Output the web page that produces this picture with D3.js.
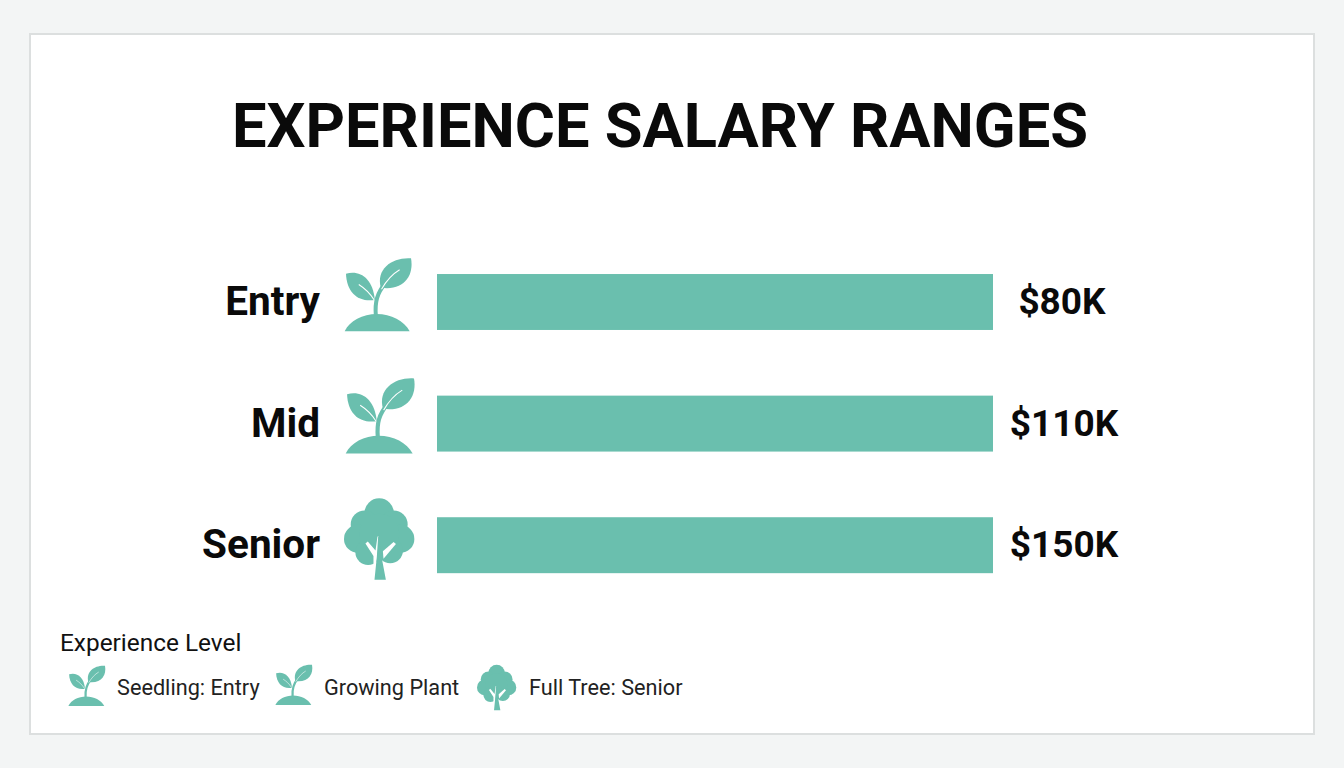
<!DOCTYPE html>
<html><head><meta charset="utf-8">
<script src="https://cdn.jsdelivr.net/npm/d3@7"></script>
<style>html,body{margin:0;padding:0;background:#f3f5f5;overflow:hidden}svg{display:block}text{font-family:Roboto,sans-serif}</style>
</head><body><svg id="c" width="1344" height="768"></svg>
<script>
const categories = ["Entry", "Mid", "Senior"];
const salaryLabels = ["$80K", "$110K", "$150K"];
const barShare = [100, 100, 100];
const iconKinds = ["seedling", "seedling", "tree"];
const legendLabels = ["Seedling: Entry", "Growing Plant", "Full Tree: Senior"];
const legendKinds = ["seedling", "seedling", "tree"];
const titleText = "EXPERIENCE SALARY RANGES";
const legendTitle = "Experience Level";
const teal = "#6abfae";

const svg = d3.select("#c");
svg.append("rect").attr("x",30).attr("y",34).attr("width",1284).attr("height",700)
  .attr("fill","#fff").attr("stroke","#dcdfdf").attr("stroke-width",2);
svg.append("text").attr("x",660).attr("y",147).attr("text-anchor","middle")
  .attr("font-size",61.4).attr("font-weight",700).attr("fill","#0a0a0a").text(titleText);

const x = d3.scaleLinear().domain([0,100]).range([437,993]);
const y = d3.scaleBand().domain(categories).range([264.3,582.9]).paddingInner(0.54).paddingOuter(0.08);

function seedling(g){
  g.append("path").attr("fill",teal).attr("d","M2 222 C16 190 56 170 98 170 C140 170 180 190 196 222Z");
  g.append("path").attr("fill","none").attr("stroke",teal).attr("stroke-width",12)
    .attr("d","M95 174 C92 135 98 108 124 78");
  g.append("path").attr("fill",teal).attr("d","M6 50 C46 38 86 62 92 128 C44 136 8 108 6 50Z");
  g.append("path").attr("fill",teal).attr("d","M200 4 C146 0 94 34 110 92 C176 102 210 58 200 4Z");
  g.append("path").attr("fill","none").attr("stroke","#fff").attr("stroke-width",3)
    .attr("d","M44 82 C60 92 76 106 90 128 M166 38 C146 50 128 68 112 96");
}
function tree(g){
  const lobes=[[105,48,44],[62,82,42],[148,82,42],[42,125,42],[168,125,42],[72,165,38],[138,160,38],[105,110,60]];
  g.selectAll("circle").data(lobes).join("circle").attr("cx",d=>d[0]).attr("cy",d=>d[1]).attr("r",d=>d[2]).attr("fill",teal);
  g.append("path").attr("fill","#fff").attr("d","M64 139 L71 133 L94 160 L100 118 L104 118 L100 176 L92 226 L88 226 L88 176Z");
  g.append("path").attr("fill","#fff").attr("d","M155 140 L148 134 L116 162 L118 184Z");
  g.append("path").attr("fill",teal).attr("d","M102 118 L106 118 L112 178 L125 247 L91 247 L98 178Z");
}
const drawIcon = {seedling, tree};

const rows = categories.map((c,i)=>({c,label:salaryLabels[i],share:barShare[i],kind:iconKinds[i]}));
const row = svg.selectAll("g.row").data(rows).join("g").attr("class","row");
row.append("rect").attr("x",x(0)).attr("y",d=>y(d.c)).attr("height",y.bandwidth())
  .attr("width",d=>x(d.share)-x(0)).attr("fill",teal);
row.append("text").attr("x",320).attr("y",d=>y(d.c)+y.bandwidth()/2+13).attr("text-anchor","end")
  .attr("font-size",40.5).attr("font-weight",700).attr("fill","#0a0a0a").text(d=>d.c);
row.append("text").attr("x",d=>x(d.share)+(d.c==="Entry"?69:71)).attr("y",d=>y(d.c)+y.bandwidth()/2+12).attr("text-anchor","middle")
  .attr("font-size",37).attr("font-weight",700).attr("fill","#0a0a0a").text(d=>d.label);
const iconPos = {Entry:[344,257,.335],Mid:[345,377,.345],Senior:[344,497,.335]};
row.append("g").attr("transform",d=>{const p=iconPos[d.c];return `translate(${p[0]},${p[1]}) scale(${p[2]})`;})
  .each(function(d){drawIcon[d.kind](d3.select(this));});

svg.append("text").attr("x",60).attr("y",651).attr("font-size",24.4).attr("fill","#111").text(legendTitle);
const legX=[[68,665,.185,117],[275,664,.185,324],[477,664,.187,529]];
const leg = svg.selectAll("g.leg").data(legendLabels).join("g").attr("class","leg");
leg.append("g").attr("transform",(d,i)=>`translate(${legX[i][0]},${legX[i][1]}) scale(${legX[i][2]})`)
  .each(function(d,i){drawIcon[legendKinds[i]](d3.select(this));});
leg.append("text").attr("x",(d,i)=>legX[i][3]).attr("y",695).attr("font-size",21.7).attr("fill","#222").text(d=>d);
</script></body></html>
